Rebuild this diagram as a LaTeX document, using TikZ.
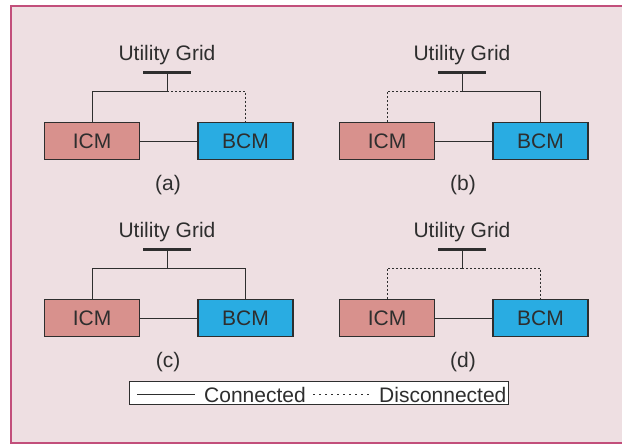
\documentclass[tikz,border=0pt]{standalone}
\usepackage{fontspec}
\setmainfont{Liberation Sans}
\usetikzlibrary{positioning}

\definecolor{bgpink}{HTML}{EEDFE2}
\definecolor{framepink}{HTML}{C24F7B}
\definecolor{icmred}{HTML}{D8918D}
\definecolor{bcmblue}{HTML}{29ACE2}
\definecolor{ink}{HTML}{2E2E2E}

\begin{document}
\begin{tikzpicture}[x=1pt,y=-1pt,
	module/.style={draw=ink, line width=1.4pt, minimum width=95pt, minimum height=37pt,
		inner sep=0pt, font=\fontsize{21}{24}\selectfont, text=ink},
	lbl/.style={font=\fontsize{21}{24}\selectfont, text=ink, inner sep=0pt},
	link/.style={draw=ink, line width=1pt},
	cut/.style={draw=ink, line width=1pt, dash pattern=on 2pt off 2pt},
	bus/.style={draw=ink, line width=3pt}]

	\useasboundingbox (0,0) rectangle (622,445);
	\clip (0,0) rectangle (622,445);
	% frame
	\fill[white] (0,0) rectangle (622,445);
	\draw[framepink, line width=2pt, fill=bgpink] (11,6) rectangle (640,443);

	% the four cases
	\foreach \dx/\dy/\p/\lstyle/\rstyle in {0/0/a/link/cut, 295/0/b/cut/link, 0/177/c/link/link, 295/177/d/cut/cut}{
	\begin{scope}[shift={(\dx,\dy)}]
		\node[lbl, anchor=base] (grid\p) at (167,60) {Utility Grid};
		\coordinate (busl\p) at (143,72);
		\coordinate (busr\p) at (191,72);
		\coordinate (bus\p) at (167,72);
		\coordinate (tap\p) at (167,91);
		\node[module, fill=icmred] (icm\p) at (92,141) {ICM};
		\node[module, fill=bcmblue] (bcm\p) at (245.5,141) {BCM};
		\node[lbl, anchor=base] (cap\p) at (168,190) {(\p)};
		\draw[bus] (busl\p) -- (busr\p);
		\draw[link] (bus\p) -- (tap\p);
		\draw[\lstyle] (tap\p) -| (icm\p);
		\draw[\rstyle] (tap\p) -| (bcm\p);
		\draw[link] (icm\p) -- (bcm\p);
	\end{scope}
	}

	% legend
	\node[draw=ink, line width=1pt, fill=white, minimum width=379pt, minimum height=23pt,
		inner sep=0pt] (legend) at (318.5,392.5) {};
	\coordinate (solidl) at (137,394);
	\coordinate (solidr) at (195,394);
	\coordinate (dotl) at (313,394);
	\coordinate (dotr) at (370,394);
	\draw[link] (solidl) -- (solidr);
	\draw[link, dash pattern=on 1.5pt off 4.5pt] (dotl) -- (dotr);
	\node[lbl, anchor=base west] (conn) at (204,402) {Connected};
	\node[lbl, anchor=base west] (disc) at (379,402) {Disconnected};

\end{tikzpicture}
\end{document}
